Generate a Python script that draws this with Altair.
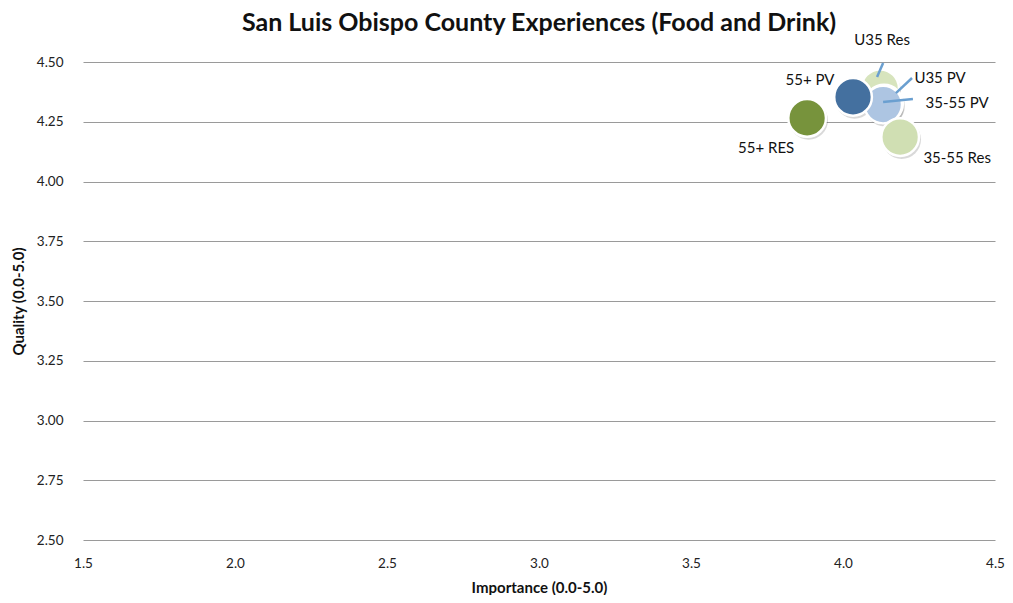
import altair as alt
import pandas as pd

# ---- data ----
groups = ["U35 Res", "U35 PV", "35-55 PV", "35-55 Res", "55+ RES", "55+ PV"]
importance = [4.122, 4.135, 4.132, 4.188, 3.882, 4.033]
quality = [4.39, 4.326, 4.322, 4.186, 4.266, 4.354]
colors = ["#D7E4BD", "#B9CDE5", "#ADC5E2", "#D0DFB3", "#77933C", "#44709F"]
draw_order = [1, 2, 3, 4, 5, 6]

# label offsets (pixels) relative to the bubble centre
label_dx = [2, 56, 74, 57, -41, -43]
label_dy = [-48, -26, -2, 21, 30, -17]
# leader-line ends (in data units) for the labels that use one
leader_groups = ["U35 Res", "U35 PV", "35-55 PV"]
leader_x1 = [4.132, 4.227, 4.230]
leader_y1 = [4.496, 4.433, 4.345]
leader_x2 = [4.112, 4.174, 4.132]
leader_y2 = [4.437, 4.370, 4.333]

df = pd.DataFrame({
    "group": groups, "importance": importance, "quality": quality,
    "order": draw_order,
})
leaders = pd.DataFrame({
    "group": leader_groups, "x1": leader_x1, "y1": leader_y1,
    "x2": leader_x2, "y2": leader_y2,
})

FONT = "Lato"
xscale = alt.Scale(domain=[1.5, 4.5], nice=False, zero=False)
yscale = alt.Scale(domain=[2.5, 4.5], nice=False, zero=False)

x_axis = alt.Axis(values=[1.5, 2.0, 2.5, 3.0, 3.5, 4.0, 4.5], format=".1f",
                  grid=False, domain=False, ticks=False, labelPadding=16,
                  labelFlush=False,
                  labelFontSize=13.5, labelColor="#222", labelFont=FONT,
                  title="Importance (0.0-5.0)", titleFont=FONT, titleFontSize=15,
                  titleFontWeight="bold", titleColor="#111", titlePadding=11)
y_axis = alt.Axis(values=[2.5, 2.75, 3.0, 3.25, 3.5, 3.75, 4.0, 4.25, 4.5], format=".2f",
                  grid=True, gridColor="#9a9a9a", gridWidth=1.2, domain=False,
                  ticks=False, labelPadding=20, labelFontSize=13.5, labelColor="#222",
                  labelFont=FONT, title="Quality (0.0-5.0)", titleFont=FONT,
                  titleFontSize=15, titleFontWeight="bold", titleColor="#111",
                  titlePadding=10)

base = alt.Chart(df)

shadow = base.mark_circle(size=1500, color="#000000", opacity=0.15,
                          xOffset=1.5, yOffset=2.5).encode(
    x=alt.X("importance:Q", scale=xscale, axis=x_axis),
    y=alt.Y("quality:Q", scale=yscale, axis=y_axis),
    order=alt.Order("order:Q"),
)

bubbles = base.mark_point(filled=True, size=1420, opacity=1,
                          stroke="white", strokeWidth=2.5, shape="circle").encode(
    x=alt.X("importance:Q", scale=xscale),
    y=alt.Y("quality:Q", scale=yscale),
    fill=alt.Fill("group:N", scale=alt.Scale(domain=groups, range=colors), legend=None),
    order=alt.Order("order:Q"),
)

rules = alt.Chart(leaders).mark_rule(color="#6A9FD0", strokeWidth=2.5).encode(
    x=alt.X("x1:Q", scale=xscale), y=alt.Y("y1:Q", scale=yscale),
    x2="x2:Q", y2="y2:Q",
)

label_layers = []
for g, dxv, dyv in zip(groups, label_dx, label_dy):
    label_layers.append(
        alt.Chart(df[df.group == g]).mark_text(font=FONT, fontSize=15, color="#111",
                                               dx=dxv, dy=dyv).encode(
            x=alt.X("importance:Q", scale=xscale),
            y=alt.Y("quality:Q", scale=yscale),
            text="group:N",
        )
    )

chart = alt.layer(shadow, bubbles, rules, *label_layers).properties(
    width=912, height=478,
    title=alt.TitleParams("San Luis Obispo County Experiences (Food and Drink)",
                          font=FONT, fontSize=25, fontWeight="bold", color="#111",
                          anchor="middle", offset=2, dy=5),
    autosize=alt.AutoSizeParams(type="none"),
    padding={"left": 75, "top": 54, "right": 10, "bottom": 55},
).configure_view(stroke=None)

chart.save("out.html", embed_options={"renderer": "svg", "actions": False})
